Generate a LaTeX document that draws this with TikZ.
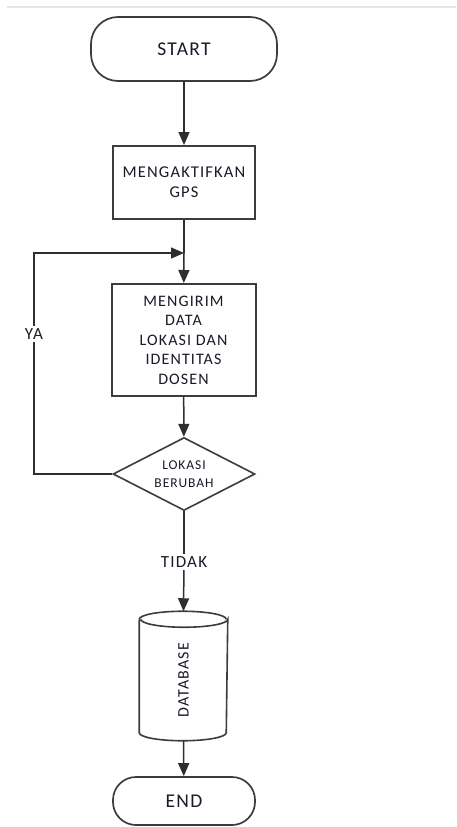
\documentclass[tikz,border=0pt]{standalone}
\usepackage{fontspec}
\setmainfont{Carlito}[LetterSpace=7]
\usetikzlibrary{arrows.meta,shapes.geometric,shapes.misc}
\definecolor{ln}{HTML}{2E2E2E}
\definecolor{bx}{HTML}{3C3C3C}
\definecolor{tx}{HTML}{1A1A28}
\begin{document}
\begin{tikzpicture}[x=1pt,y=-1pt,
  line width=1.5pt,
  every node/.style={text=tx, font=\fontsize{16.5}{20}\selectfont},
  term/.style={draw=bx, line width=1.7pt, rounded corners=27pt, align=center},
  procbox/.style={draw=bx, line width=2pt, align=center},
  decbox/.style={draw=bx, line width=1.6pt, diamond, aspect=2, inner sep=0pt, align=center},
  flow/.style={draw=ln, -{Triangle[length=13pt,width=11pt]}},
  plain/.style={draw=ln},
  lbl/.style={fill=white, inner sep=2pt}
]
\useasboundingbox (0,0) rectangle (456,827);
\fill[white] (0,0) rectangle (456,827);
\draw[color=black!10, line width=1.5pt] (7,7) -- (456,7);

\node[term, minimum width=186pt, minimum height=64pt, font=\fontsize{19.5}{20}\selectfont] (start) at (184,49) {START};
\node[procbox, minimum width=142pt, minimum height=73pt] (gps) at (184,182.5) {MENGAKTIFKAN\\GPS};
\coordinate (m) at (184,253);
\node[procbox, minimum width=144pt, minimum height=112pt, font=\fontsize{16}{19.5}\selectfont] (kirim) at (183.5,340) {MENGIRIM\\DATA\\LOKASI DAN\\IDENTITAS\\DOSEN};
\node[decbox, minimum width=142pt, minimum height=73pt] (dec) at (184,474) {};
\node[font=\fontsize{13.5}{18}\selectfont, align=center] (dectext) at (184,474) {LOKASI\\BERUBAH};
\coordinate (lt) at (34,474);
\coordinate (lb) at (34,253);
\node[lbl, font=\fontsize{17}{20}\selectfont] (ya) at (34,334) {YA};
\node[minimum width=87pt, minimum height=128pt, inner sep=0pt] (db) at (183.5,676) {};
\node[rotate=90, font=\fontsize{16}{18}\selectfont] (dbtext) at (183.5,680) {DATABASE};
\node[term, minimum width=142pt, minimum height=48pt, rounded corners=23pt, font=\fontsize{19.5}{20}\selectfont] (end) at (184,801) {END};

% cylinder outline
\draw[draw=bx, line width=1.6pt]
  ([yshift=-8pt]db.north west) -- ([yshift=8pt]db.south west)
  arc[start angle=180, end angle=360, x radius=43.5pt, y radius=8pt]
  -- ([yshift=-8pt]db.north east)
  arc[start angle=0, end angle=-180, x radius=43.5pt, y radius=8pt];
\draw[draw=bx, line width=1.6pt]
  ([yshift=-8pt]db.north west) arc[start angle=180, end angle=360, x radius=43.5pt, y radius=-8pt];

\draw[flow] (start) -- (gps);
\draw[plain] (gps) -- (m);
\draw[flow] (m) -- (kirim);
\draw[flow] (kirim) -- (dec);
\draw[plain] (dec.west) -- (lt) -- (ya);
\draw[flow] (ya) -- (lb) -- (m);
\node[lbl, font=\fontsize{17}{20}\selectfont] (tidak) at (184,562) {TIDAK};
\draw[plain] (dec.south) -- (tidak);
\draw[flow] (tidak) -- (db.north);
\draw[flow] (db.south) -- (end);
\end{tikzpicture}
\end{document}
